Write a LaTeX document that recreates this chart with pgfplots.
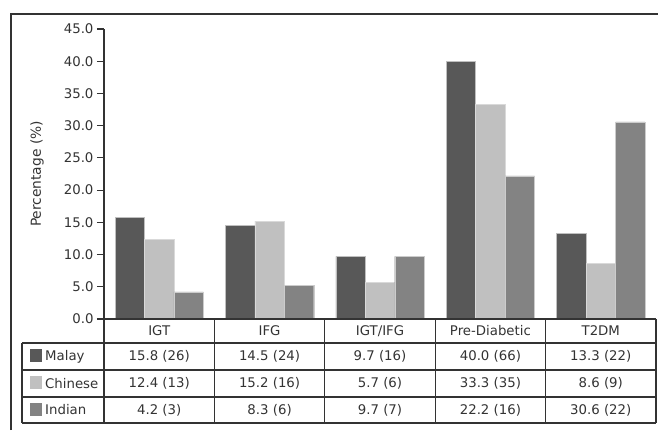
\documentclass[border=0pt]{standalone}
\usepackage{fontspec}
\setmainfont{DejaVu Sans}
\usepackage{pgfplots}
\pgfplotsset{compat=1.18}

\definecolor{malay}{HTML}{585858}
\definecolor{chinese}{HTML}{C0C0C0}
\definecolor{indian}{HTML}{838383}
\definecolor{ink}{HTML}{333333}
\newcommand\tf{\fontsize{13.3}{16}\selectfont}

\begin{document}
\begin{tikzpicture}
\begin{axis}[
    at={(104pt,-319pt)}, anchor=south west,
    width=552pt, height=290pt, scale only axis,
    xmin=-0.5, xmax=4.5, ymin=0, ymax=45,
    axis x line=none, axis y line*=left,
    xtick=\empty,
    ytick={0,5,...,45},
    tick align=outside, major tick length=7pt,
    y axis line style={ink, line width=1.5pt},
    ytick style={ink, line width=1.2pt},
    yticklabel style={font=\tf, text=ink,
        /pgf/number format/fixed, /pgf/number format/fixed zerofill,
        /pgf/number format/precision=1},
    /pgf/number format/assume math mode=true,
    ybar=0pt, bar width=29.4pt,
    clip=false,
]
% bar heights as drawn in the chart (IFG Indian bar is drawn near 5.2)
\addplot[fill=malay, draw=white!75!black, line width=0.4pt] coordinates {(0,15.8) (1,14.5) (2,9.7) (3,40.0) (4,13.3)};
\addplot[fill=chinese, draw=white!85!black, line width=0.4pt] coordinates {(0,12.4) (1,15.2) (2,5.7) (3,33.3) (4,8.6)};
\addplot[fill=indian, draw=white!80!black, line width=0.4pt] coordinates {(0,4.2) (1,5.2) (2,9.7) (3,22.2) (4,30.6)};
\end{axis}

\begin{scope}[x=1pt, y=-1pt]
\path (0,0) rectangle (659,430);
% outer frame
\draw[ink, line width=1.5pt] (11,430) -- (11,14) -- (658,14);
% ylabel
\node[rotate=90, font=\fontsize{13.8}{16}\selectfont, text=ink] at (37,174) {Percentage (\%)};
% table lines
\draw[ink, line width=1.2pt] (104,319) -- (656,319);
\foreach \y in {343,370,397,423} \draw[ink, line width=1.2pt] (22,\y) -- (656,\y);
\draw[ink, line width=1.2pt] (22,343) -- (22,423);
\foreach \i in {0,...,5} \draw[ink, line width=1.2pt] ({104+110.4*\i},319) -- ({104+110.4*\i},423);
% header
\foreach \c [count=\i from 0] in {IGT,IFG,IGT/IFG,Pre-Diabetic,T2DM}
  \node[font=\tf, text=ink] at ({159.2+110.4*\i},331) {\c};
% row labels with swatches
\fill[malay] (30,349) rectangle (42,362);
\fill[chinese] (30,376) rectangle (42,389);
\fill[indian] (30,403) rectangle (42,416);
\node[font=\tf, text=ink, anchor=west, inner sep=0pt] at (45,356.5) {Malay};
\node[font=\tf, text=ink, anchor=west, inner sep=0pt] at (45,383.5) {Chinese};
\node[font=\tf, text=ink, anchor=west, inner sep=0pt] at (45,410) {Indian};
% cell values
\foreach \c [count=\i from 0] in {15.8 (26),14.5 (24),9.7 (16),40.0 (66),13.3 (22)}
  \node[font=\tf, text=ink] at ({159.2+110.4*\i},356.5) {\c};
\foreach \c [count=\i from 0] in {12.4 (13),15.2 (16),5.7 (6),33.3 (35),8.6 (9)}
  \node[font=\tf, text=ink] at ({159.2+110.4*\i},383.5) {\c};
\foreach \c [count=\i from 0] in {4.2 (3),8.3 (6),9.7 (7),22.2 (16),30.6 (22)}
  \node[font=\tf, text=ink] at ({159.2+110.4*\i},410) {\c};
\end{scope}
\end{tikzpicture}
\end{document}
